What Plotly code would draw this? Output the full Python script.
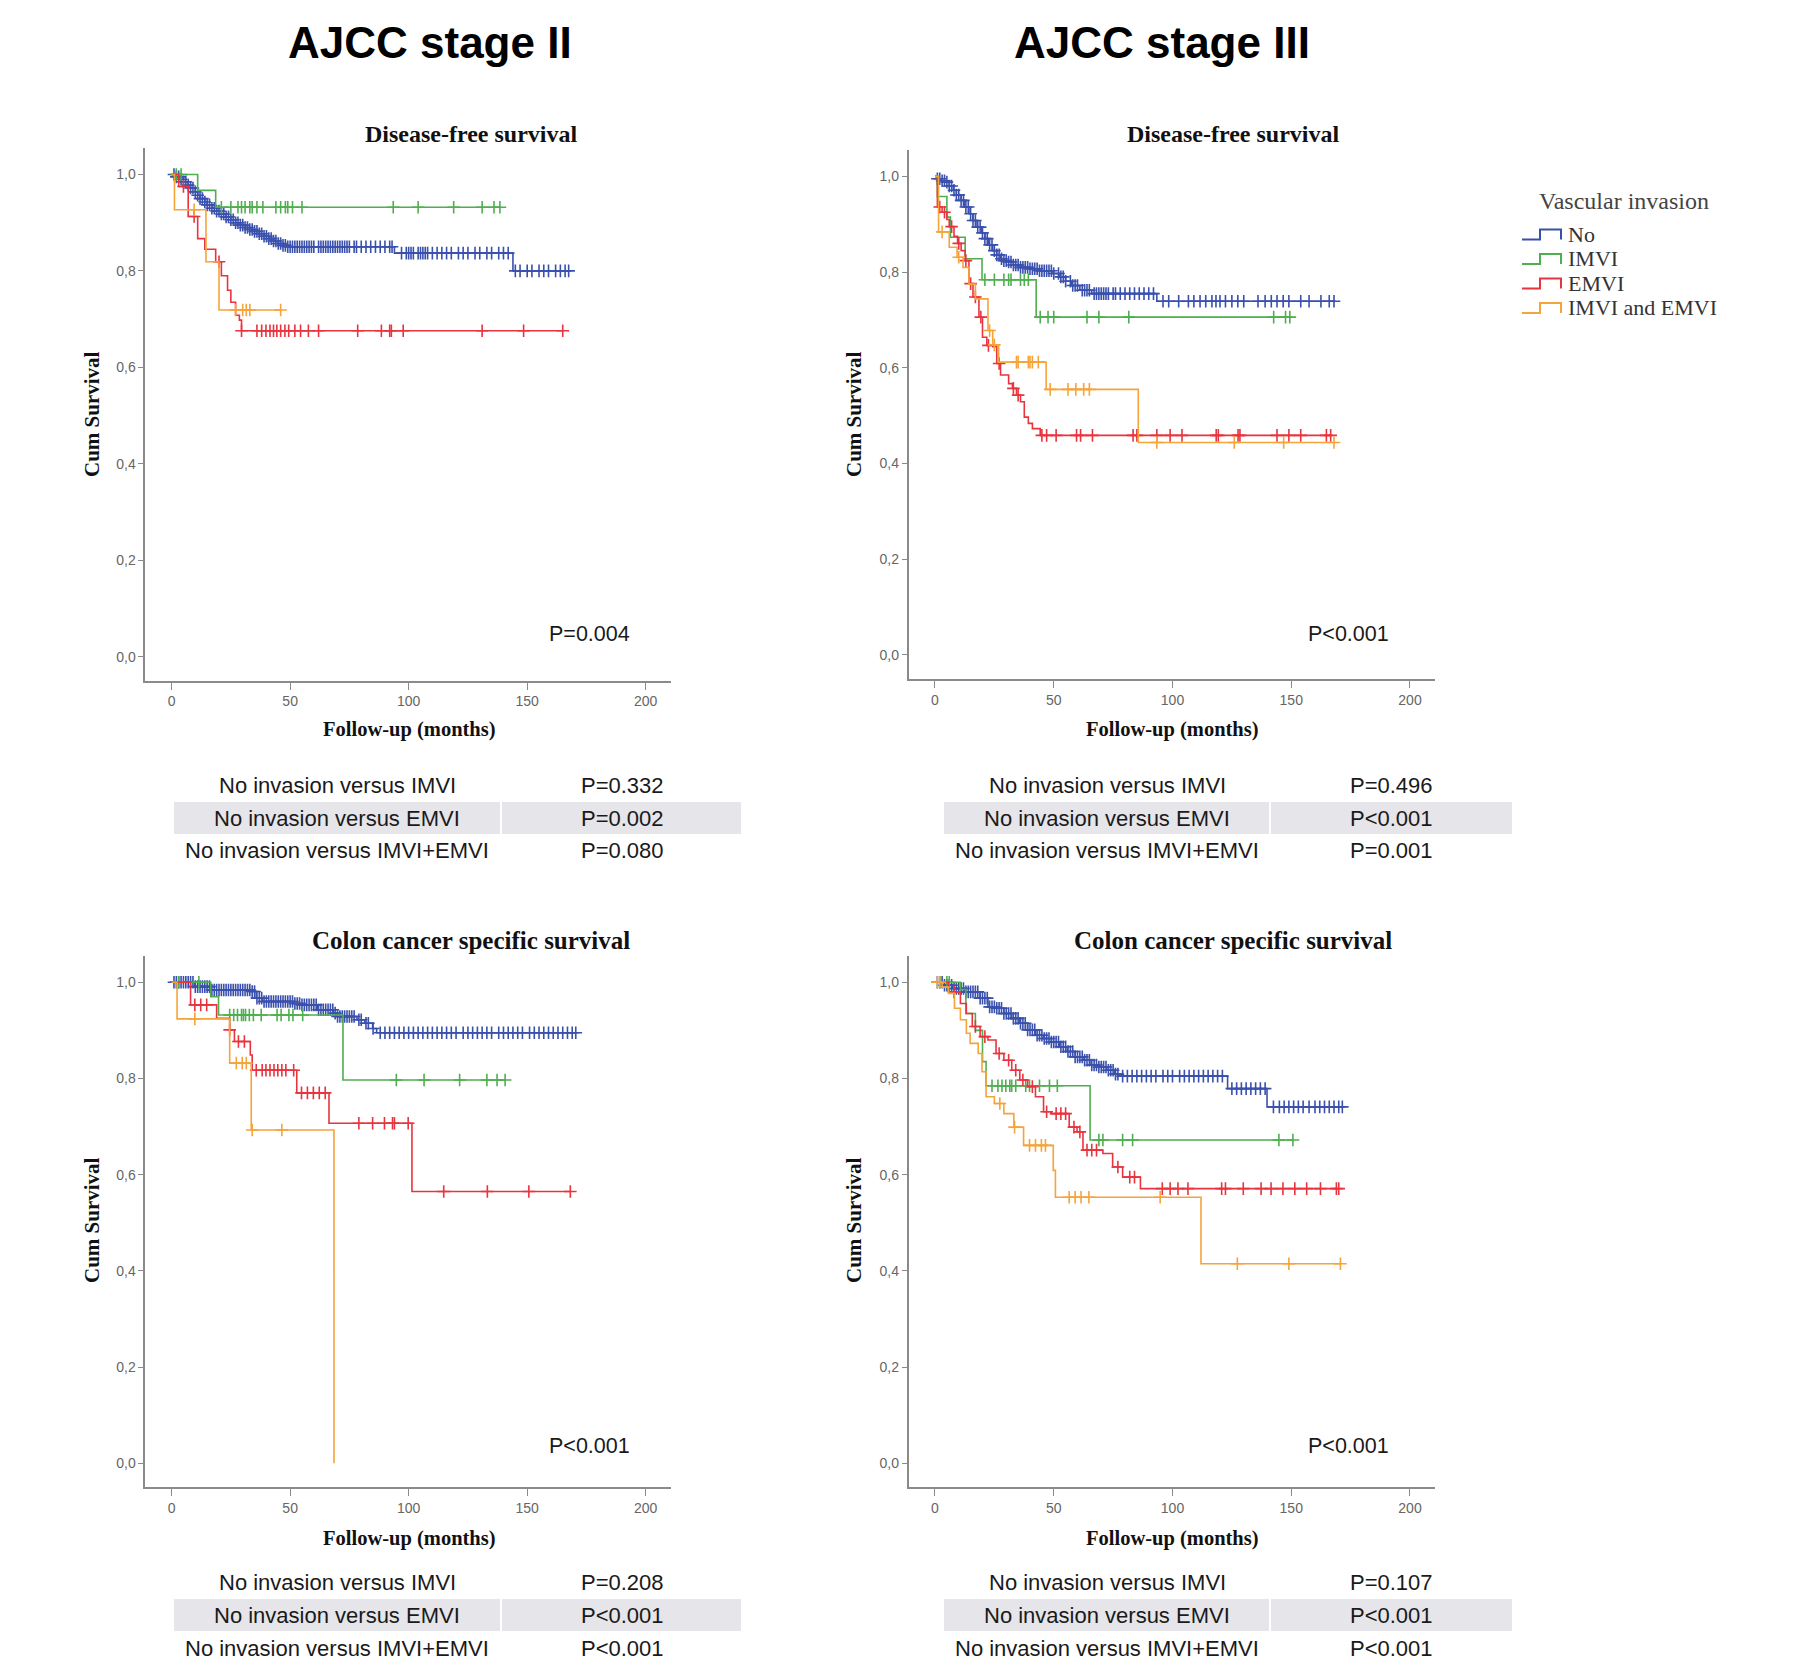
import plotly.graph_objects as go

W, H = 1800, 1675

# ---------------- DATA ----------------
groups = ["No", "IMVI", "EMVI", "IMVI and EMVI"]
colors = {"No": "#3a50ad", "IMVI": "#4fae4f", "EMVI": "#e8343f", "IMVI and EMVI": "#f5a43a"}

# Panel 1: AJCC stage II, Disease-free survival
p1_no_t = [2, 4, 5, 7, 8, 10, 11, 12, 14, 15, 17, 19, 21, 23, 25, 27, 29, 31, 33, 35, 37, 39, 41, 43, 45, 47, 49, 94, 144]
p1_no_s = [0.995, 0.99, 0.985, 0.978, 0.972, 0.964, 0.957, 0.950, 0.943, 0.937, 0.930, 0.924, 0.918, 0.912, 0.906,
           0.900, 0.895, 0.890, 0.886, 0.882, 0.877, 0.872, 0.867, 0.862, 0.857, 0.853, 0.850, 0.837, 0.800]
p1_no_c = [1, 2, 3, 4, 5, 6, 7, 8, 9, 10, 11, 12, 13, 14, 15, 16, 17, 18, 19, 20, 21, 22, 23, 24, 25, 26, 27, 28, 29,
           30, 31, 32, 33, 34, 35, 36, 37, 38, 39, 40, 41, 42, 43, 44, 45, 46, 47, 48, 49, 50, 51, 52, 53, 54, 55, 56,
           57, 58, 59, 60, 62, 63, 64, 65, 66, 67, 68, 69, 70, 71, 72, 73, 74, 75, 77, 78, 80, 82, 84, 86, 88, 90, 92,
           93, 97, 99, 100, 101, 102, 104, 105, 106, 107, 108, 110, 112, 114, 116, 118, 121, 123, 125, 128, 130, 133,
           135, 138, 140, 142, 145, 147, 150, 152, 155, 157, 159, 162, 164, 166, 167.5]
p1_imvi_t = [11, 18.6]
p1_imvi_s = [0.967, 0.932]
p1_imvi_c = [2, 4, 21, 25, 28, 29.5, 31, 33, 34, 36, 38.5, 44, 46, 48, 49, 51, 55, 93.5, 104, 119, 131, 136, 138.5]
p1_emvi_t = [3, 7, 11, 14, 18.6, 21, 23.6, 25, 27, 28.6, 29.5]
p1_emvi_s = [0.975, 0.913, 0.867, 0.845, 0.819, 0.79, 0.76, 0.735, 0.708, 0.698, 0.676]
p1_emvi_c = [5, 9.5, 20, 29.5, 36, 38, 39.8, 41.5, 43, 44.4, 46, 47.8, 49.4, 52, 54.4, 57.7, 62, 78.5, 88.5, 92, 92.7,
             97.7, 131, 148.5, 165]
p1_both_t = [1.2, 14.5, 20]
p1_both_s = [0.927, 0.819, 0.719]
p1_both_c = [9.5, 27, 30, 31.5, 33, 46]

# Panel 2: AJCC stage III, Disease-free survival
p2_no_t = [1, 3, 4.3, 6, 7.7, 9, 11, 12.5, 14.3, 16, 17.7, 19.5, 21, 22.5, 24.3, 26, 27.6, 29, 31, 33, 36, 39.3, 44,
           49.3, 52.6, 55, 57.6, 61, 66, 93.4]
p2_no_s = [0.995, 0.991, 0.988, 0.980, 0.971, 0.961, 0.950, 0.936, 0.922, 0.908, 0.894, 0.882, 0.870, 0.857, 0.845,
           0.836, 0.828, 0.824, 0.821, 0.815, 0.810, 0.807, 0.803, 0.797, 0.790, 0.781, 0.772, 0.762, 0.755, 0.739]
p2_no_c = [1, 2, 3, 4, 5, 6, 7, 8, 9, 10, 11, 12, 13, 14, 15, 16, 17, 18, 19, 20, 21, 22, 23, 24, 25, 26, 27, 28, 29,
           30, 31, 32, 33, 34, 35, 36, 37, 38, 39, 40, 41, 42, 43, 44, 45, 46, 47, 48, 49, 50, 52, 53, 54, 55, 57, 58,
           59, 60, 62, 63, 64, 65, 67, 68, 69, 70, 71, 72, 73, 75, 76, 78, 80, 82, 84, 86, 88, 90, 92, 96, 98.4,
           102.6, 106.7, 109, 111.6, 114, 116.6, 118.3, 120, 122.3, 125, 127.5, 130, 136, 139, 141.6, 144, 146.6,
           149, 154, 157.5, 162.5, 166, 168]
p2_imvi_t = [1, 5, 6.5, 12.7, 19.8, 42.6]
p2_imvi_s = [0.958, 0.915, 0.873, 0.828, 0.784, 0.706]
p2_imvi_c = [21, 25, 29, 31, 32, 36, 37.6, 39.3, 44.3, 47.6, 50, 64, 69, 81.6, 142.6, 147.6, 149.4]
p2_emvi_t = [1, 3, 5, 6, 8, 9.5, 11, 12.7, 14.3, 16, 18.5, 20, 21.8, 24.3, 26, 27.6, 31, 32.6, 34.3, 36, 37.6, 39.3,
             41, 44.3]
p2_emvi_s = [0.936, 0.925, 0.91, 0.895, 0.875, 0.86, 0.845, 0.824, 0.776, 0.748, 0.706, 0.664, 0.647, 0.644, 0.609,
             0.585, 0.567, 0.557, 0.543, 0.529, 0.497, 0.484, 0.473, 0.459]
p2_emvi_c = [2, 4, 7, 10, 13, 15, 17, 19.3, 22.5, 27, 33, 35, 45, 47, 51, 59.6, 61.3, 66.3, 83.4, 85, 93.4, 99, 104,
             118.4, 119.3, 127.6, 128.4, 144, 149, 154, 164.8, 166.6]
p2_both_t = [1.5, 6, 9.3, 11.8, 14.3, 17, 22.3, 24.3, 26.8, 46.8, 85.6]
p2_both_s = [0.884, 0.852, 0.831, 0.81, 0.775, 0.744, 0.678, 0.648, 0.612, 0.555, 0.444]
p2_both_c = [3, 10, 23, 25, 34.3, 35, 39.3, 40, 41, 43.5, 48.5, 56, 59.3, 62.6, 65, 93.4, 126, 146.8, 168]

# Panel 3: AJCC stage II, Colon cancer specific survival
p3_no_t = [9.8, 16.5, 33.2, 35.7, 38.2, 51.5, 54.8, 61.5, 68.2, 69.8, 78.2, 81.5, 84.8, 86.5]
p3_no_s = [0.991, 0.984, 0.981, 0.967, 0.96, 0.956, 0.953, 0.943, 0.936, 0.929, 0.922, 0.915, 0.904, 0.895]
p3_no_c = [1, 2, 3, 4, 5, 6, 7, 8, 9, 10, 11, 12, 13, 14, 15, 16, 17, 18, 19, 20, 21, 22, 23, 24, 25, 26, 27, 28, 29,
           30, 31, 32, 33, 34, 35, 36, 37, 38, 39, 40, 41, 42, 43, 44, 45, 46, 47, 48, 49, 50, 51, 52, 53, 54, 55, 56,
           57, 58, 59, 60, 61, 62, 63, 64, 65, 66, 67, 68, 69, 70, 71, 72, 73, 74, 75, 76, 77, 79, 80, 82, 83, 85,
           88, 90, 92, 94, 96, 98, 100, 102, 104, 106, 108, 110, 112, 114, 116, 118, 120, 123, 125, 127, 129, 131,
           133, 135, 138, 140, 142, 144, 146, 148, 151, 153, 155, 157, 159, 161, 163, 165, 167, 169, 170.5]
p3_imvi_t = [16.5, 19.8, 72.3]
p3_imvi_s = [0.970, 0.932, 0.797]
p3_imvi_c = [3, 11.5, 24.5, 26.2, 27.8, 29.5, 30.3, 31.2, 32.8, 34.5, 37.8, 44.5, 46.2, 49.5, 51.2, 55.3, 94.8, 106.5,
             121.5, 133, 137.3, 140.7]
p3_emvi_t = [8, 19, 24.5, 26.5, 33.2, 34, 52.8, 66.4, 101.4]
p3_emvi_s = [0.953, 0.925, 0.901, 0.877, 0.849, 0.817, 0.770, 0.707, 0.565]
p3_emvi_c = [9.8, 12.3, 14.8, 24.5, 28.2, 30.7, 35.7, 38.2, 39.8, 41.5, 43.2, 44.8, 46.5, 48.2, 51.5, 54.8, 57.3, 59.8,
             62.3, 64.8, 79, 84.8, 89.8, 93.2, 94, 99.8, 114.8, 133.2, 150.7, 168.2]
p3_both_t = [2.3, 24.5, 33.6, 68.5]
p3_both_s = [0.924, 0.832, 0.693, 0.0]
p3_both_c = [9.8, 27.3, 29.8, 31.5, 34, 46.5]

# Panel 4: AJCC stage III, Colon cancer specific survival
p4_no_t = [4, 7.3, 12.3, 19, 22.3, 25.7, 29, 32.3, 35.7, 39, 42.3, 45.7, 49, 52.3, 55.7, 59, 62.3, 65.7, 69, 72.3,
           75.7, 77.3, 123.2, 139.8]
p4_no_s = [0.994, 0.987, 0.98, 0.967, 0.949, 0.946, 0.935, 0.925, 0.915, 0.901, 0.89, 0.883, 0.876, 0.866, 0.856,
           0.845, 0.838, 0.828, 0.824, 0.817, 0.809, 0.805, 0.779, 0.741]
p4_no_c = [1, 2, 3, 4, 5, 6, 7, 8, 9, 10, 11, 12, 13, 14, 15, 16, 17, 18, 19, 20, 21, 22, 23, 24, 25, 26, 27, 28, 29,
           30, 31, 32, 33, 34, 35, 36, 37, 38, 39, 40, 41, 42, 43, 44, 45, 46, 47, 48, 49, 50, 51, 52, 53, 54, 55, 56,
           57, 58, 59, 60, 61, 62, 63, 64, 65, 66, 67, 68, 69, 70, 71, 72, 73, 74, 75, 76, 77, 79, 81, 83, 85, 87,
           89, 91, 93, 96, 98, 100, 103, 105, 107, 109, 111, 113, 115, 117, 119, 121, 125, 127, 129, 131, 133, 135,
           137, 139, 142.5, 145, 147, 149, 151, 153, 155, 157.5, 160, 162, 164, 166, 168, 170, 171.5]
p4_imvi_t = [10.7, 13, 17, 20, 21.5, 65.3]
p4_imvi_s = [0.985, 0.935, 0.9, 0.835, 0.785, 0.672]
p4_imvi_c = [2, 5, 6, 24, 26.5, 28.2, 29.8, 31.5, 32.3, 34, 38.2, 39.8, 44, 48.2, 51.5, 69, 70.7, 79, 83.2, 144.8,
             150.7]
p4_emvi_t = [5.7, 10.7, 13.2, 15.7, 19, 22.3, 25.7, 29, 32.3, 35.7, 39, 42.3, 45.7, 49, 56.5, 59.8, 62.3, 70.7, 74.8,
             79, 86.5]
p4_emvi_s = [0.98, 0.956, 0.935, 0.908, 0.887, 0.88, 0.852, 0.838, 0.817, 0.797, 0.783, 0.762, 0.731, 0.727, 0.699,
             0.689, 0.651, 0.644, 0.616, 0.595, 0.571]
p4_emvi_c = [8, 17, 21, 27, 31, 34, 37, 41, 47, 51, 53, 55, 58.5, 61, 64, 66, 68, 77, 82, 84, 95.7, 99, 102.3, 106.5,
             120.7, 122.3, 129.8, 137.3, 141.5, 146.5, 151.5, 156.5, 162.3, 169, 170]
p4_both_t = [3, 5.7, 8.2, 10.7, 13.2, 14.8, 18.2, 19.8, 21.5, 25, 29, 33.2, 37.3, 49.8, 50.7, 112]
p4_both_s = [0.99, 0.977, 0.946, 0.922, 0.894, 0.873, 0.852, 0.814, 0.762, 0.748, 0.727, 0.699, 0.661, 0.609, 0.553,
             0.415]
p4_both_c = [1, 2, 27.3, 33.5, 39.8, 42.3, 44.8, 46.5, 56.5, 59, 61.5, 64.8, 94.8, 127.3, 149, 170.7]

panel_titles = ["Disease-free survival", "Disease-free survival",
                "Colon cancer specific survival", "Colon cancer specific survival"]
panel_pvalues = ["P=0.004", "P<0.001", "P<0.001", "P<0.001"]
stage_titles = ["AJCC stage II", "AJCC stage III"]
x_tickvals = [0, 50, 100, 150, 200]
x_ticktext = ["0", "50", "100", "150", "200"]
y_tickvals = [0.0, 0.2, 0.4, 0.6, 0.8, 1.0]
y_ticktext = ["0,0", "0,2", "0,4", "0,6", "0,8", "1,0"]
comparisons = ["No invasion versus IMVI", "No invasion versus EMVI", "No invasion versus IMVI+EMVI"]
comp_p = [["P=0.332", "P=0.002", "P=0.080"],
          ["P=0.496", "P<0.001", "P=0.001"],
          ["P=0.208", "P<0.001", "P<0.001"],
          ["P=0.107", "P<0.001", "P<0.001"]]

panels = [
    {"No": (p1_no_t, p1_no_s, p1_no_c), "IMVI": (p1_imvi_t, p1_imvi_s, p1_imvi_c),
     "EMVI": (p1_emvi_t, p1_emvi_s, p1_emvi_c), "IMVI and EMVI": (p1_both_t, p1_both_s, p1_both_c)},
    {"No": (p2_no_t, p2_no_s, p2_no_c), "IMVI": (p2_imvi_t, p2_imvi_s, p2_imvi_c),
     "EMVI": (p2_emvi_t, p2_emvi_s, p2_emvi_c), "IMVI and EMVI": (p2_both_t, p2_both_s, p2_both_c)},
    {"No": (p3_no_t, p3_no_s, p3_no_c), "IMVI": (p3_imvi_t, p3_imvi_s, p3_imvi_c),
     "EMVI": (p3_emvi_t, p3_emvi_s, p3_emvi_c), "IMVI and EMVI": (p3_both_t, p3_both_s, p3_both_c)},
    {"No": (p4_no_t, p4_no_s, p4_no_c), "IMVI": (p4_imvi_t, p4_imvi_s, p4_imvi_c),
     "EMVI": (p4_emvi_t, p4_emvi_s, p4_emvi_c), "IMVI and EMVI": (p4_both_t, p4_both_s, p4_both_c)},
]

# ---------------- LAYOUT GEOMETRY (pixels in page) ----------------
OFF = 8  # page body margin
XR = [-11.1, 210.6]
YR = [-0.05, 1.055]
# (x of tick 0, x of tick 200, y of 0.0, y of 1.0)
geo = [(171.6, 645.7, 656.6, 174.5),
       (935.0, 1410.0, 655.0, 176.4),
       (171.6, 645.7, 1463.3, 982.3),
       (935.0, 1410.0, 1463.3, 982.3)]


def px(x):
    return (x - OFF) / W


def py(y):
    return 1 - (y - OFF) / H


def surv_at(ts, ss, c):
    v = 1.0
    for t, s in zip(ts, ss):
        if t <= c:
            v = s
    return v


fig = go.Figure()
layout_axes = {}
annotations = []
shapes = []
ser = "Liberation Serif"
sans = "Liberation Sans"

for i, (x0, x200, y0, y1) in enumerate(geo):
    k = "" if i == 0 else str(i + 1)
    p = (x200 - x0) / 200.0
    q = y0 - y1
    left = x0 + XR[0] * p
    right = x0 + XR[1] * p
    bottom = y0 - YR[0] * q
    top = y0 - YR[1] * q
    layout_axes["xaxis" + k] = dict(domain=[px(left), px(right)], range=XR, anchor="y" + k,
                                    tickvals=x_tickvals, ticktext=x_ticktext, showgrid=False, zeroline=False,
                                    showline=True, linecolor="#8a8a8a", linewidth=1.6, ticks="outside",
                                    ticklen=7, tickwidth=1.4, tickcolor="#8a8a8a",
                                    tickfont=dict(family=sans, size=14, color="#666666"))
    layout_axes["yaxis" + k] = dict(domain=[py(bottom), py(top)], range=YR, anchor="x" + k,
                                    tickvals=y_tickvals, ticktext=y_ticktext, showgrid=False, zeroline=False,
                                    showline=True, linecolor="#8a8a8a", linewidth=1.6, ticks="outside",
                                    ticklen=5, tickwidth=1.4, tickcolor="#8a8a8a",
                                    tickfont=dict(family=sans, size=14, color="#666666"))
    for g in groups:
        ts, ss, cs = panels[i][g]
        xs = [0] + list(ts)
        ys = [1.0] + list(ss)
        if ss[-1] > 0:
            xs.append(max(cs[-1], ts[-1]))
            ys.append(ss[-1])
        col = colors[g]
        fig.add_trace(go.Scatter(x=xs, y=ys, mode="lines", line=dict(color=col, width=1.6, shape="hv"),
                                 xaxis="x" + k, yaxis="y" + k, showlegend=False, hoverinfo="skip"))
        fig.add_trace(go.Scatter(x=cs, y=[surv_at(ts, ss, c) for c in cs], mode="markers",
                                 marker=dict(symbol="cross-thin", size=9, line=dict(width=1.6, color=col), color=col),
                                 xaxis="x" + k, yaxis="y" + k, showlegend=False, hoverinfo="skip"))

    # panel title
    ty = 134 if i < 2 else 940
    tx = 471 if i % 2 == 0 else 1233
    annotations.append(dict(text="<b>%s</b>" % panel_titles[i], x=px(tx), y=py(ty), xref="paper", yref="paper",
                            showarrow=False, xanchor="center", yanchor="middle",
                            font=dict(family=ser, size=24 if i < 2 else 25, color="#111111")))
    # axis titles
    xt_y = 729 if i < 2 else 1538
    xt_x = 409 if i % 2 == 0 else 1172
    annotations.append(dict(text="<b>Follow-up (months)</b>", x=px(xt_x), y=py(xt_y), xref="paper", yref="paper",
                            showarrow=False, xanchor="center", yanchor="middle",
                            font=dict(family=ser, size=20.5, color="#111111")))
    yt_x = 92 if i % 2 == 0 else 854
    yt_y = 414 if i < 2 else 1220
    annotations.append(dict(text="<b>Cum Survival</b>", x=px(yt_x), y=py(yt_y), xref="paper", yref="paper",
                            showarrow=False, xanchor="center", yanchor="middle", textangle=-90,
                            font=dict(family=ser, size=21, color="#111111")))
    # P value
    pv_x = 589 if i % 2 == 0 else 1348
    pv_y = 634 if i < 2 else 1446
    annotations.append(dict(text=panel_pvalues[i], x=px(pv_x), y=py(pv_y), xref="paper", yref="paper",
                            showarrow=False, xanchor="center", yanchor="middle",
                            font=dict(family=sans, size=21.5, color="#1a1a1a")))
    # comparison table
    if i % 2 == 0:
        bl, br, dv, tc, pc = 174, 741, 501, 337, 622
    else:
        bl, br, dv, tc, pc = 944, 1512, 1270, 1107, 1391
    rows = [785, 818, 850] if i < 2 else [1582, 1615, 1648]
    band_t, band_b = rows[1] - 16, rows[1] + 16
    shapes.append(dict(type="rect", xref="paper", yref="paper", x0=px(bl), x1=px(br), y0=py(band_b),
                       y1=py(band_t), fillcolor="#e5e5ea", line=dict(width=0), layer="below"))
    shapes.append(dict(type="line", xref="paper", yref="paper", x0=px(dv), x1=px(dv), y0=py(band_b),
                       y1=py(band_t), line=dict(color="white", width=2)))
    for r, ry in enumerate(rows):
        annotations.append(dict(text=comparisons[r], x=px(tc), y=py(ry), xref="paper", yref="paper",
                                showarrow=False, xanchor="center", yanchor="middle",
                                font=dict(family=sans, size=22, color="#1a1a1a")))
        annotations.append(dict(text=comp_p[i][r], x=px(pc), y=py(ry), xref="paper", yref="paper",
                                showarrow=False, xanchor="center", yanchor="middle",
                                font=dict(family=sans, size=22, color="#1a1a1a")))

# stage titles
for txt, sx in zip(stage_titles, [430, 1162]):
    annotations.append(dict(text="<b>%s</b>" % txt, x=px(sx), y=py(43), xref="paper", yref="paper",
                            showarrow=False, xanchor="center", yanchor="middle",
                            font=dict(family=sans, size=44, color="#000000")))

# legend (drawn manually to mimic step glyphs)
annotations.append(dict(text="Vascular invasion", x=px(1624), y=py(201), xref="paper", yref="paper",
                        showarrow=False, xanchor="center", yanchor="middle",
                        font=dict(family=ser, size=24, color="#444444")))
leg_y = [234, 258.5, 283, 307.5]
for g, ly in zip(groups, leg_y):
    yb, yt = ly + 5.5, ly - 4.5
    path = "M %f,%f L %f,%f L %f,%f L %f,%f L %f,%f" % (
        px(1522), py(yb), px(1540), py(yb), px(1540), py(yt), px(1561), py(yt), px(1561), py(yb))
    shapes.append(dict(type="path", xref="paper", yref="paper", path=path,
                       line=dict(color=colors[g], width=2)))
    annotations.append(dict(text=g, x=px(1566), y=py(ly), xref="paper", yref="paper", showarrow=False,
                            xanchor="left", yanchor="middle", font=dict(family=ser, size=22, color="#333333")))

fig.update_layout(width=W, height=H, autosize=False, margin=dict(l=0, r=0, t=0, b=0),
                  paper_bgcolor="white", plot_bgcolor="white", showlegend=False,
                  annotations=annotations, shapes=shapes, **layout_axes)

fig.write_html("out.html")
